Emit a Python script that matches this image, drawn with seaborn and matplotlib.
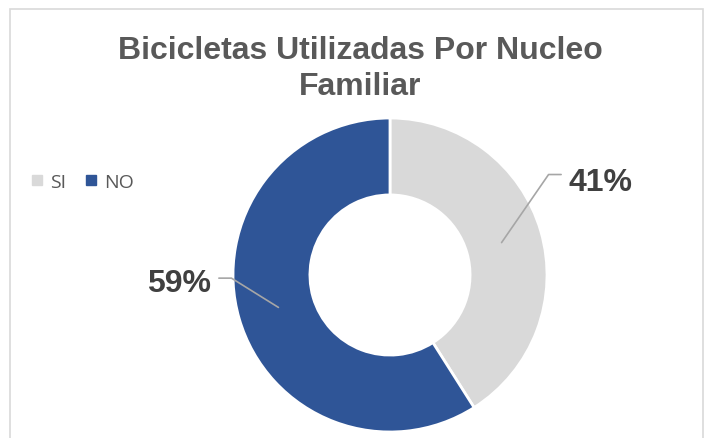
import numpy as np
import matplotlib
matplotlib.use("Agg")
import matplotlib.pyplot as plt
from matplotlib.lines import Line2D
from matplotlib.patches import Rectangle
import seaborn as sns

# Data
categories = ["SI", "NO"]
values = [41, 59]
colors = ["#D9D9D9", "#2F5597"]

sns.set_theme(style="white")
plt.rcParams["font.family"] = ["Liberation Sans", "DejaVu Sans"]

W, H = 705, 439
fig = plt.figure(figsize=(W / 100, H / 100), dpi=100)

# donut centred at (390, 276) px, outer radius 157 px
cx, cy, r = 390, 276, 157
ax = fig.add_axes([(cx - r) / W, (H - cy - r) / H, 2 * r / W, 2 * r / H])
wedges, _ = ax.pie(values, colors=colors, startangle=90, counterclock=False,
                   radius=1, wedgeprops=dict(width=0.49, edgecolor="white", linewidth=2))
ax.set_xlim(-1, 1)
ax.set_ylim(-1, 1)
ax.set_aspect("equal")
ax.axis("off")

# percentage labels with leader lines
total = sum(values)
start = 90
for i, v in enumerate(values):
    mid = np.deg2rad(start - v / total * 360 / 2)
    start -= v / total * 360
    x0, y0 = 0.74 * np.cos(mid), 0.74 * np.sin(mid)
    side = 1 if np.cos(mid) > 0 else -1
    if side > 0:
        ex, ey = 1.01, 0.64
    else:
        ex, ey = -1.01, -0.02
    ax.plot([x0, ex, ex + side * 0.08], [y0, ey, ey], color="#A6A6A6",
            lw=1.2, clip_on=False)
    ax.text(ex + side * 0.13, ey - (0.05 if side > 0 else 0.03), f"{v}%",
            ha="left" if side > 0 else "right",
            va="center", fontsize=23, fontweight="bold", color="#404040")

fig.text(0.511, 1 - 36 / H, "Bicicletas Utilizadas Por Nucleo\nFamiliar", ha="center",
         va="top", fontsize=23, fontweight="bold", color="#595959", linespacing=1.28)

handles = [Line2D([], [], marker="s", ls="", markersize=6.5, color=c) for c in colors]
fig.legend(handles, categories, loc="center left", bbox_to_anchor=(14 / W, 1 - 183 / H),
           ncol=2, frameon=False, handlelength=0.55, handletextpad=0.4,
           columnspacing=1.0, labelcolor="#595959",
           prop={"family": "Open Sans", "size": 14})

# chart border
fig.patches.append(Rectangle((10 / W, -0.1), 693 / W, 1.1 - 10 / H, transform=fig.transFigure,
                             fill=False, edgecolor="#D9D9D9", lw=1.2))

fig.savefig("out.png", dpi=100, facecolor="white")
